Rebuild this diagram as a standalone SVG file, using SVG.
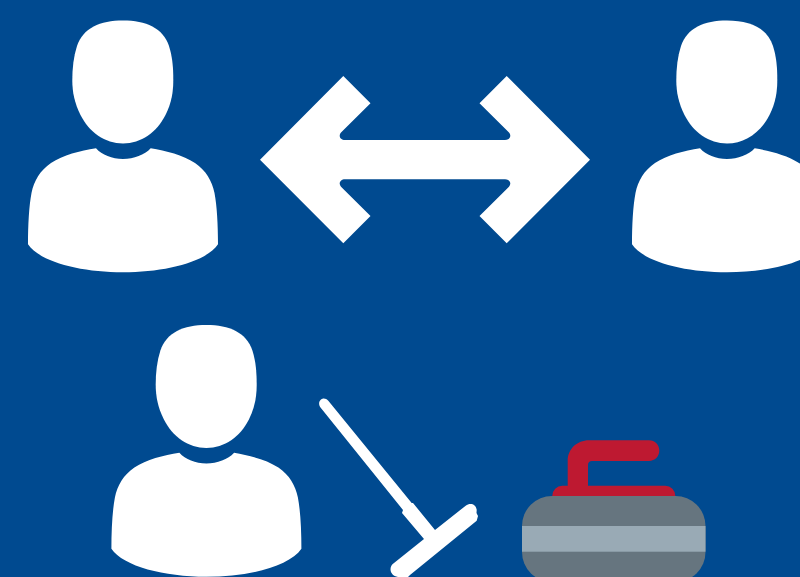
<svg xmlns="http://www.w3.org/2000/svg" width="800" height="577" viewBox="0 0 800 577">
<defs>
<path id="person" fill="#fff" d="M123 20.500C146 20.500 163 28 169 46C172.500 57 173.300 68 173.300 80C173.300 92 171.500 103 165.500 115C157 132 141 143.500 123 143.500C105 143.500 89 132 80.500 115C74.500 103 72.300 92 72.300 80C72.300 68 73.500 57 77 46C83 28 100 20.500 123 20.500Z"/>
<path id="torso" fill="#fff" d="M96 148.300C102 155 112 159 123 159C134 159 144.500 155 150.700 148.300C166 151 183 155 195 163C206 170.500 212 181 214.500 193C217 206 218 225 218 244.300C206 262 165 272.300 123 272.300C81 272.300 40 262 28 244.300C28 225 29 206 31.500 193C34 181 40 170.500 51 163C63 155 80 151 96 148.300Z"/>
</defs>
<rect id="background" width="800" height="577" fill="#004a90"/>
<g id="person-left"><use href="#person"/><use href="#torso"/></g>
<g id="person-right" transform="translate(604 0)"><use href="#person"/><use href="#torso"/></g>
<g id="person-bottom" transform="translate(83.400 304.500)"><use href="#person"/><use href="#torso"/></g>
<g id="connectors">
<path id="double-arrow" fill="#fff" d="M260 159.700L343.300 76L370.500 103.300L341 132.500C338 136 340.500 140 345 140L505 140C509.500 140 512 136 509 132.500L479.500 103.300L506.700 76L590 159.700L506.700 243.300L479.500 216L509 186.800C512 183.300 509.500 179.300 505 179.300L345 179.300C340.500 179.300 338 183.300 341 186.800L370.500 216L343.300 243.300Z"/>
</g>
<g id="broom" fill="#fff">
<path d="M328.300 400.800L411.700 503L413 503L435 530L465.700 505.700C470 502.500 476 504 476.700 510L476.500 513L478 516L476.700 520.700L410 575L408 577L398 577C390 576 388 567 394 563L424 539L402 513L403 510L320.500 407.500C316 401 323.500 395 328.300 400.800Z"/>
</g>
<g id="curling-stone">
<rect x="552.300" y="485.700" width="123" height="22" rx="10" fill="#be1931"/>
<path d="M567.700 490V461C567.700 449 577 440.300 589 440.300H649C655 440.300 659.300 445 659.300 450.600C659.300 456.500 655 461 649 461H592C589.500 461 588 462.500 588 465V490Z" fill="#be1931"/>
<rect x="522" y="496" width="183.500" height="86" rx="30" fill="#66757f"/>
<rect x="522" y="526" width="183.500" height="25.700" fill="#99aab5"/>
</g>
</svg>
